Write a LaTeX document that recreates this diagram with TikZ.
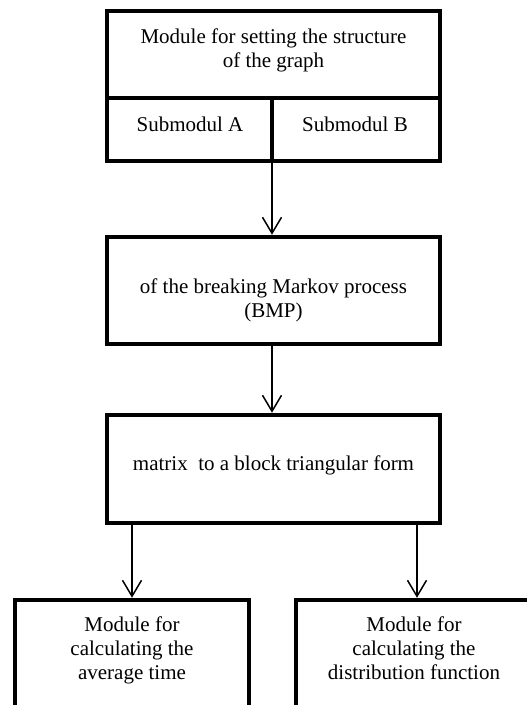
\documentclass[tikz,border=0pt]{standalone}
\usepackage{fontspec}
\setmainfont{Liberation Serif}
\usetikzlibrary{arrows.meta}
\begin{document}
\begin{tikzpicture}[x=1pt,y=-1pt,
  box/.style={draw, line width=4.5pt, rectangle, inner sep=0pt},
  txt/.style={font=\fontsize{21}{24}\selectfont, align=center, inner sep=0pt, anchor=base},
  arr/.style={line width=1.5pt, -{Straight Barb[length=16pt,width=19pt,line width=1.5pt]}},
  thick line/.style={line width=4.5pt}]
\useasboundingbox (0,0) rectangle (527,705);
\clip (0,0) rectangle (527,705);
% boxes
\node[box, minimum width=333pt, minimum height=150pt] (b1) at (273.5,86) {};
\node[box, minimum width=333pt, minimum height=107pt] (b2) at (273.5,290.5) {};
\node[box, minimum width=333pt, minimum height=108pt] (b3) at (273.5,469) {};
\node[box, minimum width=234pt, minimum height=120pt] (b4) at (132,660) {};
\node[box, minimum width=242pt, minimum height=120pt] (b5) at (417,660) {};
% subdivisions of top box
\coordinate (split) at (272,98);
\draw[thick line] (b1.west |- split) -- (b1.east |- split);
\draw[thick line] (split) -- (split |- b1.south);
% texts (anchor base = baseline of last line)
\node[txt] (t1) at (273.5,67) {Module for setting the structure\\of the graph};
\node[txt] (sa) at (190,131) {Submodul A};
\node[txt] (sb) at (355,131) {Submodul B};
\node[txt] (t2) at (273.5,317) {of the breaking Markov process\\(BMP)};
\node[txt] (t3) at (273.5,470) {matrix \ to a block triangular form};
\node[txt] (t4) at (132,679) {Module for\\calculating the\\average time};
\node[txt] (t5) at (414,679) {Module for\\calculating the\\distribution function};
% connectors
\draw[arr] (split |- b1.south) -- (split |- b2.north);
\draw[arr] (split |- b2.south) -- (split |- b3.north);
\draw[arr] (b4.north |- b3.south) -- (b4.north);
\draw[arr] (b5.north |- b3.south) -- (b5.north);
\end{tikzpicture}
\end{document}
